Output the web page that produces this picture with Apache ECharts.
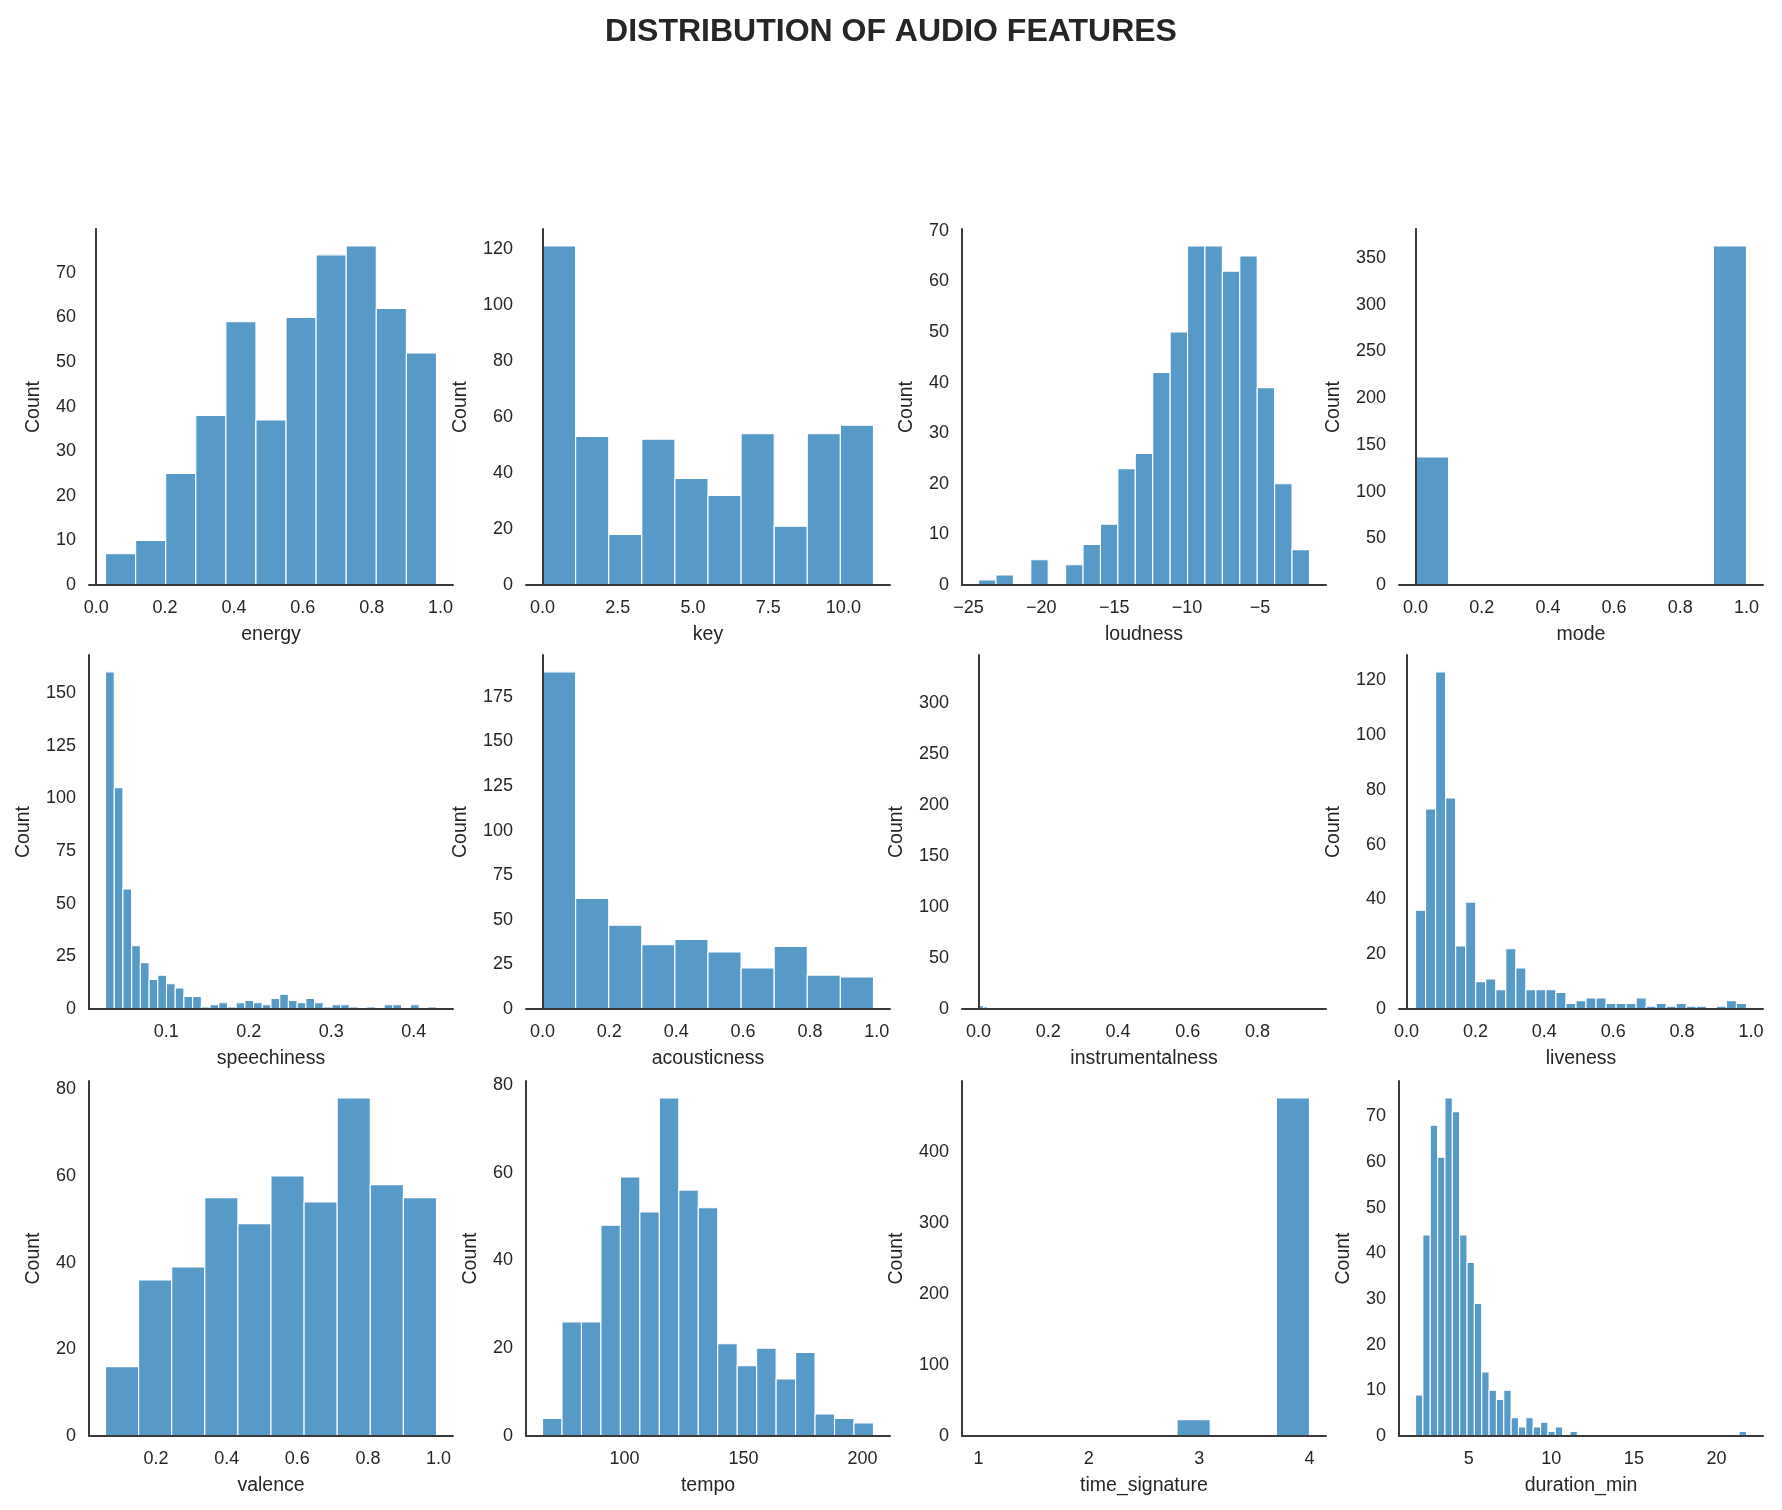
<!DOCTYPE html>
<html><head><meta charset="utf-8">
<script src="https://cdn.jsdelivr.net/npm/echarts@6/dist/echarts.min.js"></script>
<style>html,body{margin:0;padding:0;background:#fff}#chart{width:1782px;height:1510px}</style>
</head><body><div id="chart"></div>
<script>
// ---------- DATA (histogram counts) ----------
const featureNames = ['energy','key','loudness','mode','speechiness','acousticness','instrumentalness','liveness','valence','tempo','time_signature','duration_min'];

const energyRange = [0.027, 0.988];
const energyCounts = [7,10,25,38,59,37,60,74,76,62,52];
const energyXTicks = [0,0.2,0.4,0.6,0.8,1.0];
const energyYTicks = [0,10,20,30,40,50,60,70];

const keyRange = [0, 11];
const keyCounts = [121,53,18,52,38,32,54,21,54,57];
const keyXTicks = [0,2.5,5,7.5,10];
const keyYTicks = [0,20,40,60,80,100,120];

const loudnessRange = [-24.31, -1.60];
const loudnessCounts = [1,2,0,5,0,4,8,12,23,26,42,50,67,67,62,65,39,20,7];
const loudnessXTicks = [-25,-20,-15,-10,-5];
const loudnessYTicks = [0,10,20,30,40,50,60,70];

const modeRange = [0, 1];
const modeCounts = [137,0,0,0,0,0,0,0,0,363];
const modeXTicks = [0,0.2,0.4,0.6,0.8,1.0];
const modeYTicks = [0,50,100,150,200,250,300,350];

const speechinessRange = [0.0264, 0.4276];
const speechinessCounts = [160,105,57,30,22,14,16,12,10,6,6,1,2,3,1,3,4,3,2,5,7,4,3,5,3,1,2,2,1,0,1,0,2,2,0,2,0,1];
const speechinessXTicks = [0.1,0.2,0.3,0.4];
const speechinessYTicks = [0,25,50,75,100,125,150];

const acousticnessRange = [0.0003, 0.99];
const acousticnessCounts = [189,62,47,36,39,32,23,35,19,18];
const acousticnessXTicks = [0,0.2,0.4,0.6,0.8,1.0];
const acousticnessYTicks = [0,25,50,75,100,125,150,175];

// very skewed feature: only the few visible hair-thin bins are listed
const instrumentalnessRange = [0, 0.949];
const instrumentalnessLefts = [0.000,0.0025,0.005,0.0075,0.010,0.0175,0.020,0.0825,0.420];
const instrumentalnessCounts = [13,3,3,3,3,2,2,1,1];
const instrumentalnessBinWidth = 0.0025;
const instrumentalnessYMax = 347;
const instrumentalnessXTicks = [0,0.2,0.4,0.6,0.8];
const instrumentalnessYTicks = [0,50,100,150,200,250,300];

const livenessRange = [0.026, 0.987];
const livenessCounts = [36,73,123,77,23,39,10,11,7,22,15,7,7,7,6,2,3,4,4,2,2,2,4,1,2,1,2,1,1,0,1,3,2];
const livenessXTicks = [0,0.2,0.4,0.6,0.8,1.0];
const livenessYTicks = [0,20,40,60,80,100,120];

const valenceRange = [0.057, 0.994];
const valenceCounts = [16,36,39,55,49,60,54,78,58,55];
const valenceXTicks = [0.2,0.4,0.6,0.8,1.0];
const valenceYTicks = [0,20,40,60,80];

const tempoRange = [65.6, 204.6];
const tempoCounts = [4,26,26,48,59,51,77,56,52,21,16,20,13,19,5,4,3];
const tempoXTicks = [100,150,200];
const tempoYTicks = [0,20,40,60,80];

const timeSignatureRange = [1, 4];
const timeSignatureCounts = [1,0,0,0,0,0,23,0,0,476];
const timeSignatureXTicks = [1,2,3,4];
const timeSignatureYTicks = [0,100,200,300,400];

const durationRange = [1.773, 21.82];
const durationCounts = [9,44,68,61,74,71,44,38,29,14,10,8,10,4,2,4,2,3,1,2,0,1,0,0,0,0,0,0,0,0,0,0,0,0,0,0,0,0,0,0,0,0,0,0,1];
const durationXTicks = [5,10,15,20];
const durationYTicks = [0,10,20,30,40,50,60,70];

// ---------- PANEL CONFIG ----------
const panels = [
  {name:'energy', range:energyRange, counts:energyCounts, xt:energyXTicks, yt:energyYTicks, dec:1},
  {name:'key', range:keyRange, counts:keyCounts, xt:keyXTicks, yt:keyYTicks, dec:1},
  {name:'loudness', range:loudnessRange, counts:loudnessCounts, xt:loudnessXTicks, yt:loudnessYTicks, dec:0},
  {name:'mode', range:modeRange, counts:modeCounts, xt:modeXTicks, yt:modeYTicks, dec:1},
  {name:'speechiness', range:speechinessRange, counts:speechinessCounts, xt:speechinessXTicks, yt:speechinessYTicks, dec:1},
  {name:'acousticness', range:acousticnessRange, counts:acousticnessCounts, xt:acousticnessXTicks, yt:acousticnessYTicks, dec:1},
  {name:'instrumentalness', range:instrumentalnessRange, counts:instrumentalnessCounts, lefts:instrumentalnessLefts, binW:instrumentalnessBinWidth, yMax:instrumentalnessYMax, xt:instrumentalnessXTicks, yt:instrumentalnessYTicks, dec:1, thin:true},
  {name:'liveness', range:livenessRange, counts:livenessCounts, xt:livenessXTicks, yt:livenessYTicks, dec:1},
  {name:'valence', range:valenceRange, counts:valenceCounts, xt:valenceXTicks, yt:valenceYTicks, dec:1},
  {name:'tempo', range:tempoRange, counts:tempoCounts, xt:tempoXTicks, yt:tempoYTicks, dec:0},
  {name:'time_signature', range:timeSignatureRange, counts:timeSignatureCounts, xt:timeSignatureXTicks, yt:timeSignatureYTicks, dec:0},
  {name:'duration_min', range:durationRange, counts:durationCounts, xt:durationXTicks, yt:durationYTicks, dec:0}
];

const BAR = '#5799c7';
const TEXT = '#262626';
const AXIS = '#3a3a3a';
const FONT = '"Liberation Sans", Arial, Helvetica, sans-serif';
const colLeft = [89, 526, 962, 1399];
const rowTop = [229, 655, 1081];
const rowH = [356, 354, 355];
const gridW = 364;

const grids = [], xAxes = [], yAxes = [], series = [];

panels.forEach((p, i) => {
  const r = Math.floor(i / 4), c = i % 4;
  grids.push({left: colLeft[c], top: rowTop[r], width: gridW, height: rowH[r], containLabel: false});
  const lo = p.range[0], hi = p.range[1], R = hi - lo;
  const data = [];
  if (p.lefts) {
    p.lefts.forEach((l, k) => data.push([l, l + p.binW, p.counts[k]]));
  } else {
    const n = p.counts.length, w = R / n;
    p.counts.forEach((cnt, k) => data.push([lo + k * w, lo + (k + 1) * w, cnt]));
  }
  const yMax = p.yMax != null ? p.yMax : Math.max.apply(null, p.counts) * 1.05;
  const maxLabelLen = Math.max.apply(null, p.yt.map(v => String(v).length));
  const fmt = (dec) => (v) => Number(v).toFixed(dec).replace('-', '\u2212');
  xAxes.push({
    type: 'value', gridIndex: i, min: lo - 0.05 * R, max: hi + 0.05 * R, z: 5,
    axisLine: {show: true, onZero: false, lineStyle: {color: AXIS, width: 2}},
    axisTick: {show: false}, splitLine: {show: false},
    axisLabel: {customValues: p.xt, formatter: fmt(p.dec), margin: 14, fontSize: 18, color: TEXT, fontFamily: FONT},
    name: p.name, nameLocation: 'middle', nameGap: 40,
    nameTextStyle: {fontSize: 19.5, color: TEXT, fontFamily: FONT}
  });
  yAxes.push({
    type: 'value', gridIndex: i, min: 0, max: yMax, z: 5,
    axisLine: {show: true, lineStyle: {color: AXIS, width: 2}},
    axisTick: {show: false}, splitLine: {show: false},
    axisLabel: {customValues: p.yt, formatter: fmt(0), margin: 13, fontSize: 18, color: TEXT, fontFamily: FONT},
    name: 'Count', nameLocation: 'middle', nameGap: 25 + 10 * maxLabelLen,
    nameTextStyle: {fontSize: 19.5, color: TEXT, fontFamily: FONT}
  });
  const thin = !!p.thin;
  series.push({
    type: 'custom', xAxisIndex: i, yAxisIndex: i, z: 2, silent: true,
    data: data,
    renderItem: function (params, api) {
      const x0 = api.value(0), x1 = api.value(1), cnt = api.value(2);
      if (!(cnt > 0)) return null;
      const a = api.coord([x0, cnt]);
      const b = api.coord([x1, 0]);
      return {
        type: 'rect',
        shape: {x: a[0], y: a[1], width: Math.max(b[0] - a[0], thin ? 1 : 0.6), height: b[1] - a[1]},
        style: thin ? {fill: BAR, opacity: 0.9} : {fill: BAR, stroke: '#ffffff', lineWidth: 1.1}
      };
    }
  });
});

const chart = echarts.init(document.getElementById('chart'), null, {renderer: 'canvas'});
chart.setOption({
  backgroundColor: '#ffffff',
  animation: false,
  title: {
    text: 'DISTRIBUTION OF AUDIO FEATURES', left: 'center', top: 11,
    textStyle: {fontSize: 32, fontWeight: 'bold', color: TEXT, fontFamily: FONT}
  },
  grid: grids, xAxis: xAxes, yAxis: yAxes, series: series
});
</script></body></html>
